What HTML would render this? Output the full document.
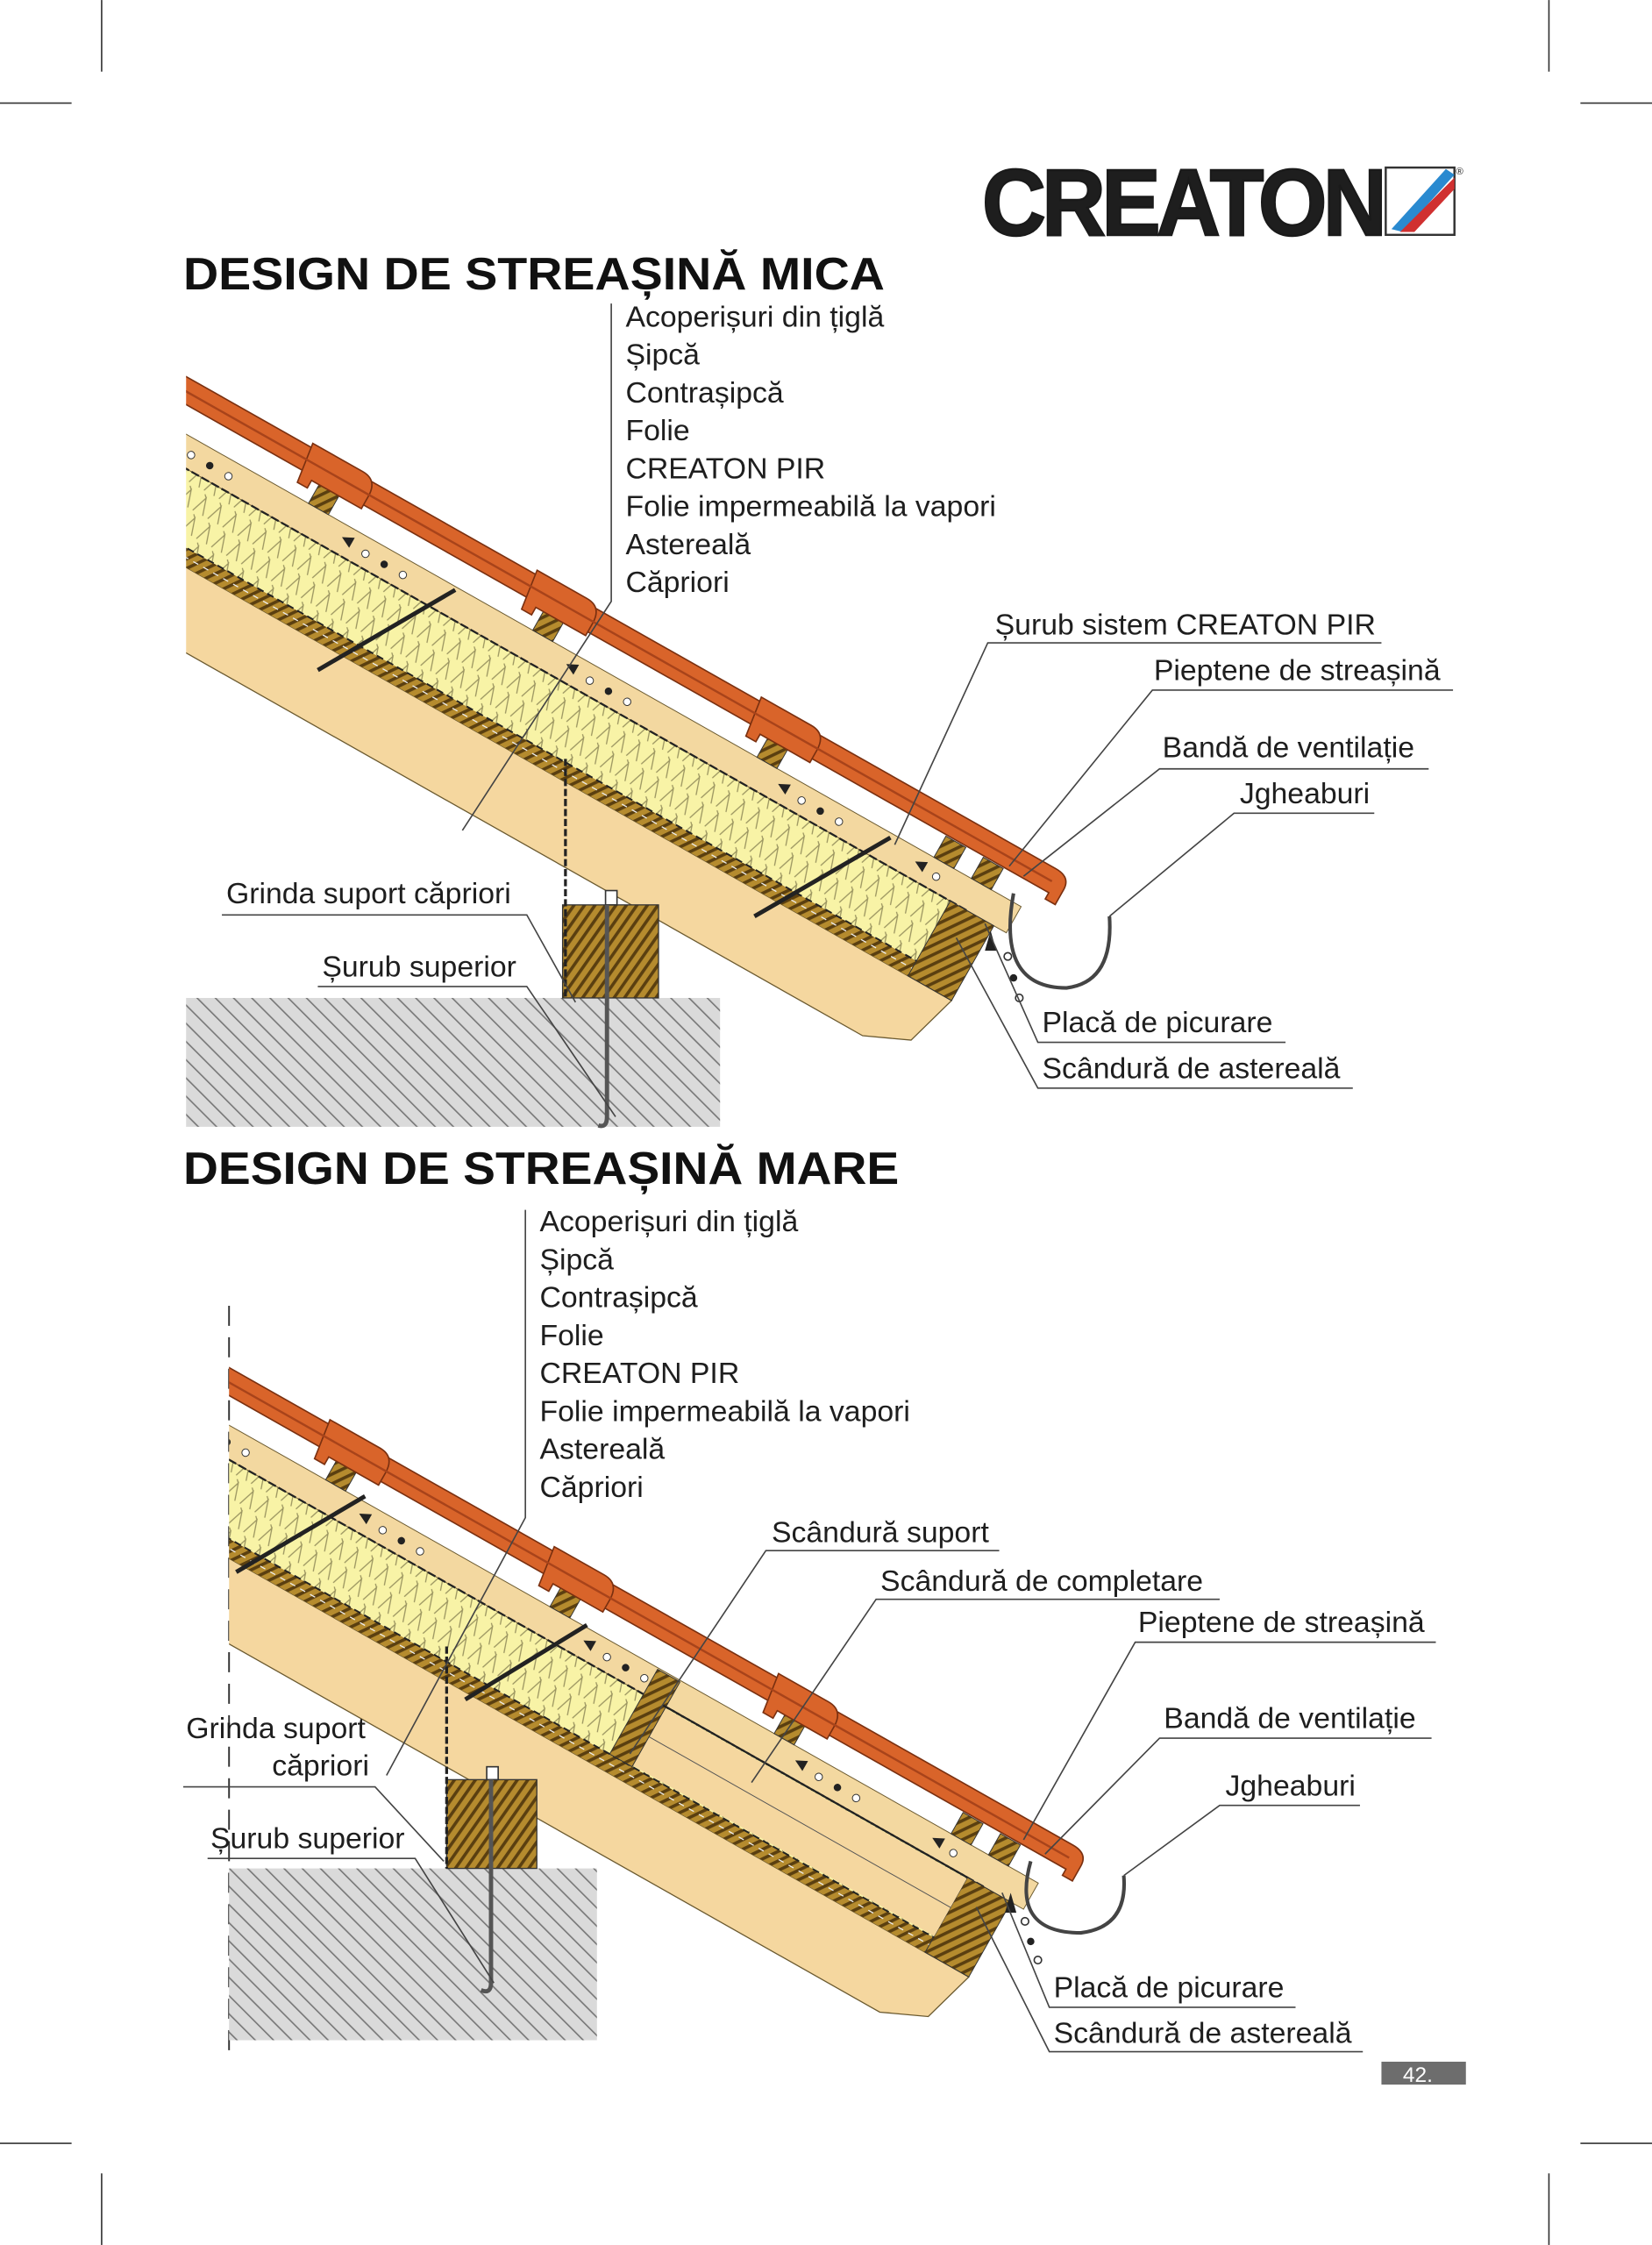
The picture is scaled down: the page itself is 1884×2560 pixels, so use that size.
<!DOCTYPE html>
<html><head><meta charset="utf-8"><style>
html,body{margin:0;padding:0;background:#fff}
svg{display:block}
text{font-family:"Liberation Sans",sans-serif;fill:#1e1e1e}
.l{font-size:20.7px}
.t{font-size:32px;font-weight:bold;fill:#111}
</style></head><body>
<svg width="1884" height="2560" viewBox="0 0 1154 1568" xmlns="http://www.w3.org/2000/svg">
<defs>
<pattern id="wood" width="6" height="6" patternUnits="userSpaceOnUse" patternTransform="rotate(35)">
<rect width="6" height="6" fill="#b58b2e"/><rect width="2.2" height="6" fill="#5a3f10"/></pattern>
<pattern id="ins" width="12" height="16" patternUnits="userSpaceOnUse">
<rect width="12" height="16" fill="#f8f3a6"/><path d="M2 15 L6 3 L10 15 M6 3 L4 1" stroke="#9a9460" stroke-width="0.8" fill="none"/></pattern>
<pattern id="conc" width="9" height="9" patternUnits="userSpaceOnUse" patternTransform="rotate(-45)">
<rect width="9" height="9" fill="#dadada"/><rect width="1" height="9" fill="#777"/></pattern>
<clipPath id="c1"><rect x="130" y="200" width="800" height="600"/></clipPath>
<clipPath id="c2"><rect x="160" y="900" width="800" height="600"/></clipPath>
<g id="roof">
<polygon points="-100,116 680,116 669,154 638,168 -100,168" fill="#f5d79f" stroke="#6b5a30" stroke-width="0.8"/>
<rect x="-100" y="104" width="780" height="12" fill="url(#wood)"/>
<rect x="-100" y="56" width="745" height="48" fill="url(#ins)"/>
<rect x="-100" y="35" width="790" height="21" fill="#f3d8a0" stroke="#6b5a30" stroke-width="0.6"/>
<line x1="-100" y1="56" x2="660" y2="56" stroke="#222" stroke-width="1.4" stroke-dasharray="6 2"/>
<line x1="-100" y1="104" x2="660" y2="104" stroke="#222" stroke-width="1.2" stroke-dasharray="5 3"/>
<line x1="-100" y1="110" x2="680" y2="110" stroke="#eee" stroke-width="0.8" stroke-dasharray="4 4"/>
<rect x="645" y="56" width="35" height="60" fill="url(#wood)" stroke="#333" stroke-width="0.6"/>
<g fill="#222">
<path d="M10 44 l8 -4 l0 8z"/><circle cx="30" cy="46" r="2.6" fill="#fff" stroke="#333" stroke-width="0.6"/><circle cx="45" cy="46" r="2.6"/><circle cx="60" cy="46" r="2.6" fill="#fff" stroke="#333" stroke-width="0.6"/>
<path d="M150 44 l8 -4 l0 8z"/><circle cx="170" cy="46" r="2.6" fill="#fff" stroke="#333" stroke-width="0.6"/><circle cx="185" cy="46" r="2.6"/><circle cx="200" cy="46" r="2.6" fill="#fff" stroke="#333" stroke-width="0.6"/>
<path d="M330 44 l8 -4 l0 8z"/><circle cx="350" cy="46" r="2.6" fill="#fff" stroke="#333" stroke-width="0.6"/><circle cx="365" cy="46" r="2.6"/><circle cx="380" cy="46" r="2.6" fill="#fff" stroke="#333" stroke-width="0.6"/>
<path d="M500 44 l8 -4 l0 8z"/><circle cx="520" cy="46" r="2.6" fill="#fff" stroke="#333" stroke-width="0.6"/><circle cx="535" cy="46" r="2.6"/><circle cx="550" cy="46" r="2.6" fill="#fff" stroke="#333" stroke-width="0.6"/>
<path d="M610 44 l8 -4 l0 8z"/><circle cx="628" cy="46" r="2.6" fill="#fff" stroke="#333" stroke-width="0.6"/>
</g>
<g fill="url(#wood)" stroke="#333" stroke-width="0.6">
<rect x="118" y="18" width="16" height="17"/><rect x="298" y="18" width="16" height="17"/><rect x="478" y="18" width="16" height="17"/><rect x="620" y="18" width="16" height="17"/><rect x="650" y="18" width="16" height="17"/>
</g>
<g fill="#d9642a" stroke="#7a3010" stroke-width="1">
<path d="M-100 0 L698 0 Q710 0 710 10 L710 22 L702 22 L702 17 L-100 17 Z"/>
<path d="M100 -3 L140 -3 Q152 -3 152 10 L152 20 L112 20 L112 26 L104 26 Z"/>
<path d="M280 -3 L320 -3 Q332 -3 332 10 L332 20 L292 20 L292 26 L284 26 Z"/>
<path d="M460 -3 L500 -3 Q512 -3 512 10 L512 20 L472 20 L472 26 L464 26 Z"/>
</g>
<line x1="-100" y1="9" x2="700" y2="9" stroke="#a8431a" stroke-width="1.5"/>
</g>
</defs>

<g stroke="#333" stroke-width="1">
<line x1="71" y1="0" x2="71" y2="50"/><line x1="1082" y1="0" x2="1082" y2="50"/>
<line x1="0" y1="72" x2="50" y2="72"/><line x1="1104" y1="72" x2="1154" y2="72"/>
<line x1="0" y1="1497" x2="50" y2="1497"/><line x1="1104" y1="1497" x2="1154" y2="1497"/>
<line x1="71" y1="1518" x2="71" y2="1568"/><line x1="1082" y1="1518" x2="1082" y2="1568"/>
</g>

<text x="686" y="164" font-size="66" font-weight="bold" fill="#1a1a1a" stroke="#1a1a1a" stroke-width="1.5" textLength="280" lengthAdjust="spacingAndGlyphs" style="letter-spacing:-3px">CREATON</text>
<rect x="968" y="117" width="48" height="47" fill="#fff" stroke="#333" stroke-width="1.5"/>
<path d="M972 160 L1010 118 L1016 122 L980 162Z" fill="#2a8ad0"/>
<path d="M978 162 L1016 124 L1016 132 L988 162Z" fill="#d03030"/>
<text x="1017" y="122" font-size="7">®</text>

<text class="t" x="128" y="202" textLength="490" lengthAdjust="spacingAndGlyphs">DESIGN DE STREAȘINĂ MICA</text>
<rect x="130" y="697" width="373" height="90" fill="url(#conc)"/>
<g clip-path="url(#c1)"><use href="#roof" transform="translate(130,263) rotate(29.5)"/></g>
<rect x="393" y="632" width="67" height="65" fill="url(#wood)" stroke="#333" stroke-width="0.8"/>
<rect x="423" y="622" width="8" height="10" fill="#fff" stroke="#333"/>
<line x1="395" y1="530" x2="395" y2="697" stroke="#222" stroke-width="2" stroke-dasharray="5 2"/>
<path d="M424 632 L424 780 Q424 788 418 786" stroke="#555" stroke-width="3" fill="none"/>
<g stroke="#222" stroke-width="3"><line x1="222" y1="468" x2="318" y2="412"/><line x1="527" y1="640" x2="622" y2="585"/></g>
<path d="M708 624 Q696 690 745 690 Q778 686 775 640" stroke="#444" stroke-width="2.5" fill="none"/>
<g fill="#222"><path d="M692 650 l4 14 l-8 0z"/><circle cx="704" cy="668" r="2.6" fill="#fff" stroke="#333"/><circle cx="708" cy="683" r="2.6"/><circle cx="712" cy="697" r="2.6" fill="#fff" stroke="#333"/></g>
<g class="l"><text x="437" y="228">Acoperișuri din țiglă</text><text x="437" y="254.5">Șipcă</text><text x="437" y="281">Contrașipcă</text><text x="437" y="307.5">Folie</text><text x="437" y="334">CREATON PIR</text><text x="437" y="360.5">Folie impermeabilă la vapori</text><text x="437" y="387">Astereală</text><text x="437" y="413.5">Căpriori</text>
<text x="695" y="443">Șurub sistem CREATON PIR</text><text x="806" y="475">Pieptene de streașină</text><text x="812" y="529">Bandă de ventilație</text><text x="866" y="561">Jgheaburi</text>
<text x="158" y="631">Grinda suport căpriori</text><text x="225" y="682">Șurub superior</text>
<text x="728" y="721">Placă de picurare</text><text x="728" y="753">Scândură de astereală</text></g>
<g stroke="#444" stroke-width="1" fill="none">
<polyline points="427,212 427,420 323,580"/>
<polyline points="965,449 690,449 625,590"/><polyline points="1015,482 805,482 705,605"/>
<polyline points="998,537 810,537 715,612"/><polyline points="960,568 862,568 775,640"/>
<polyline points="155,639 368,639 402,700"/><polyline points="222,689 368,689 430,780"/>
<polyline points="898,728 725,728 688,645"/><polyline points="945,760 725,760 668,655"/>
</g>

<text class="t" x="128" y="827" textLength="500" lengthAdjust="spacingAndGlyphs">DESIGN DE STREAȘINĂ MARE</text>
<line x1="160" y1="912" x2="160" y2="1440" stroke="#333" stroke-width="1.2" stroke-dasharray="14 8"/>
<rect x="160" y="1305" width="257" height="120" fill="url(#conc)"/>
<g clip-path="url(#c2)">
<g transform="translate(142,945) rotate(29.5)">
<use href="#roof"/>
<rect x="400" y="57" width="245" height="46" fill="#f5d79f"/>
<line x1="400" y1="80" x2="645" y2="80" stroke="#555" stroke-width="0.6"/>
<rect x="385" y="36" width="18" height="68" fill="url(#wood)" stroke="#333" stroke-width="0.6"/>
<line x1="400" y1="56" x2="645" y2="56" stroke="#222" stroke-width="1.4" stroke-dasharray="6 2"/>
</g>
</g>
<rect x="312" y="1243" width="63" height="62" fill="url(#wood)" stroke="#333" stroke-width="0.8"/>
<rect x="340" y="1234" width="8" height="9" fill="#fff" stroke="#333"/>
<line x1="312" y1="1150" x2="312" y2="1305" stroke="#222" stroke-width="2" stroke-dasharray="5 2"/>
<path d="M343 1243 L343 1385 Q343 1393 336 1390" stroke="#555" stroke-width="3" fill="none"/>
<g stroke="#222" stroke-width="3"><line x1="165" y1="1098" x2="255" y2="1045"/><line x1="325" y1="1187" x2="410" y2="1135"/></g>
<path d="M720 1300 Q706 1350 755 1350 Q788 1346 785 1310" stroke="#444" stroke-width="2.5" fill="none"/>
<g fill="#222"><path d="M706 1322 l4 14 l-8 0z"/><circle cx="716" cy="1342" r="2.6" fill="#fff" stroke="#333"/><circle cx="720" cy="1356" r="2.6"/><circle cx="725" cy="1369" r="2.6" fill="#fff" stroke="#333"/></g>
<g class="l"><text x="377" y="860">Acoperișuri din țiglă</text><text x="377" y="886.5">Șipcă</text><text x="377" y="913">Contrașipcă</text><text x="377" y="939.5">Folie</text><text x="377" y="966">CREATON PIR</text><text x="377" y="992.5">Folie impermeabilă la vapori</text><text x="377" y="1019">Astereală</text><text x="377" y="1045.5">Căpriori</text>
<text x="539" y="1077">Scândură suport</text><text x="615" y="1111">Scândură de completare</text><text x="795" y="1140">Pieptene de streașină</text><text x="813" y="1207">Bandă de ventilație</text><text x="856" y="1254">Jgheaburi</text>
<text x="130" y="1214">Grinda suport</text><text x="190" y="1240">căpriori</text><text x="147" y="1291">Șurub superior</text>
<text x="736" y="1395">Placă de picurare</text><text x="736" y="1427">Scândură de astereală</text></g>
<g stroke="#444" stroke-width="1" fill="none">
<polyline points="367,845 367,1060 270,1240"/>
<polyline points="698,1083 535,1083 440,1225"/><polyline points="852,1117 612,1117 525,1245"/>
<polyline points="1003,1147 793,1147 715,1285"/><polyline points="1000,1214 810,1214 730,1295"/>
<polyline points="950,1261 852,1261 785,1310"/>
<polyline points="128,1248 262,1248 310,1300"/><polyline points="145,1298 290,1298 345,1385"/>
<polyline points="905,1402 733,1402 700,1322"/><polyline points="952,1433 733,1433 682,1332"/>
</g>

<rect x="965" y="1440" width="59" height="16" fill="#6d6d6d"/>
<text x="980" y="1454" font-size="15" style="fill:#fff">42.</text>
</svg>
</body></html>
